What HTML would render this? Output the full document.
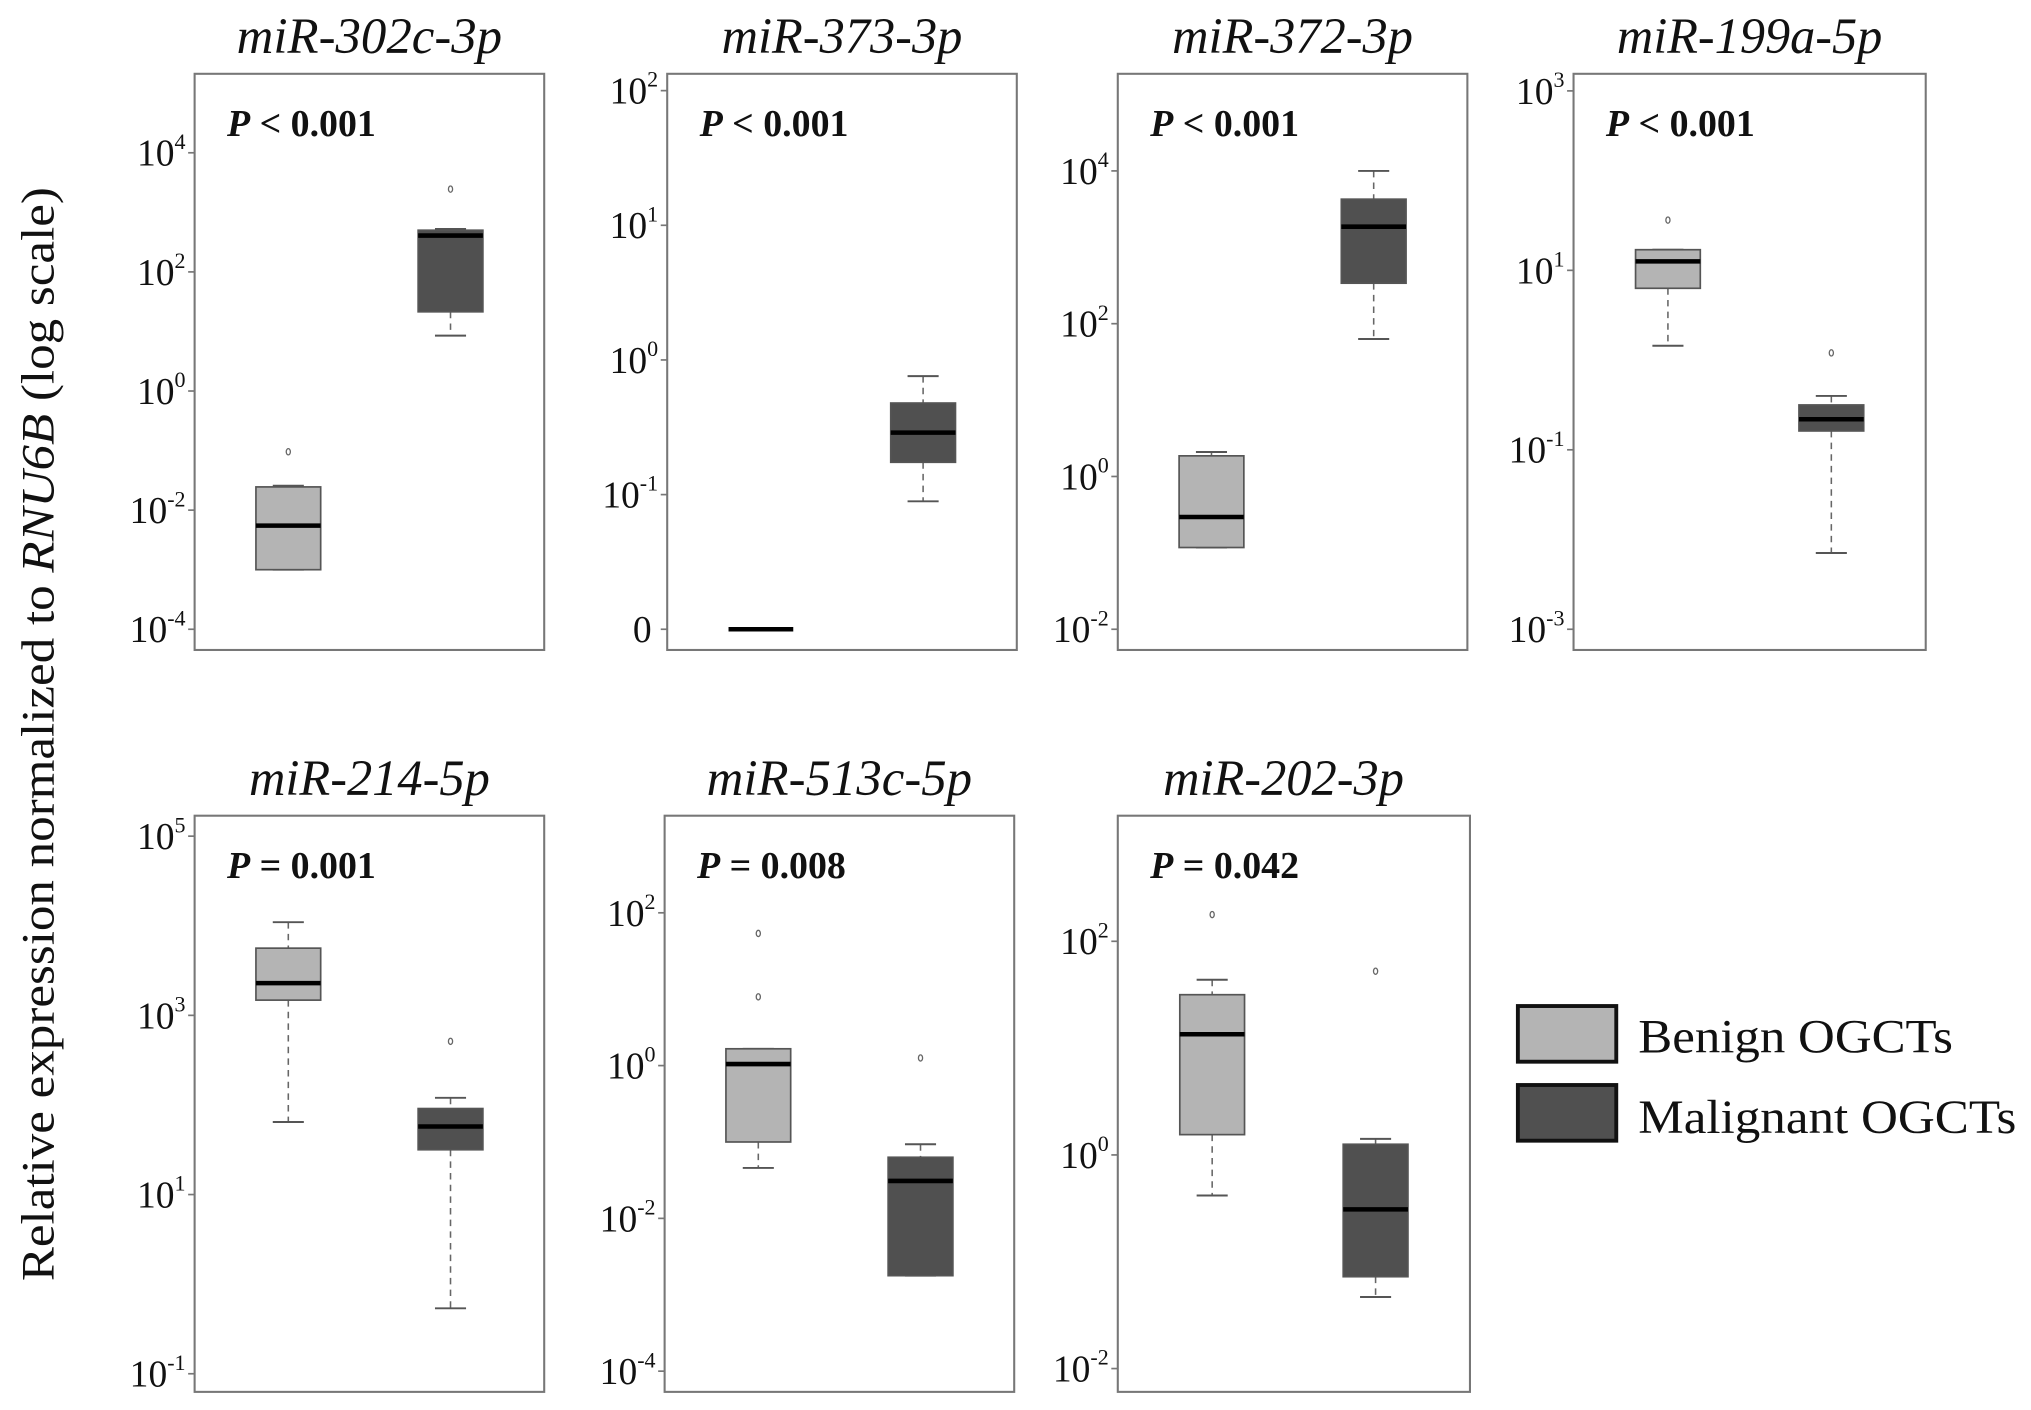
<!DOCTYPE html>
<html><head><meta charset="utf-8"><style>
html,body{margin:0;padding:0;background:#fff}
svg{display:block}
text{font-family:"Liberation Serif",serif;fill:#111}
</style></head><body>
<svg id="fig" width="2031" height="1410" viewBox="0 0 1568 1089" xmlns="http://www.w3.org/2000/svg">
<text transform="translate(41,567) rotate(-90)" text-anchor="middle" font-size="36" textLength="845" lengthAdjust="spacingAndGlyphs">Relative expression normalized to <tspan font-style="italic">RNU6B</tspan> (log scale)</text>
<g>
<rect x="1172" y="777" width="76" height="43" fill="#b4b4b4" stroke="#111" stroke-width="3"/>
<text x="1265" y="813" font-size="37" textLength="243" lengthAdjust="spacingAndGlyphs">Benign OGCTs</text>
<rect x="1172" y="838" width="76" height="43" fill="#505050" stroke="#111" stroke-width="3"/>
<text x="1265" y="875" font-size="37" textLength="292" lengthAdjust="spacingAndGlyphs">Malignant OGCTs</text>
</g>
</svg>
<script>
// log10 values: [whiskerLow, Q1, median, Q3, whiskerHigh]
const panelNames = ["miR-302c-3p","miR-373-3p","miR-372-3p","miR-199a-5p","miR-214-5p","miR-513c-5p","miR-202-3p"];
const pLabels = ["< 0.001","< 0.001","< 0.001","< 0.001","= 0.001","= 0.008","= 0.042"];
const benignStats = [
  [-3.0,-3.0,-2.26,-1.61,-1.59],
  [-2,-2,-2,-2,-2],
  [-0.93,-0.93,-0.53,0.27,0.32],
  [0.16,0.80,1.10,1.23,1.23],
  [1.81,3.17,3.36,3.75,4.04],
  [-1.34,-1.0,0.02,0.22,0.22],
  [-0.38,0.19,1.13,1.50,1.64]
];
const benignOutliers = [[-1.02],[],[],[1.56],[],[1.73,0.90],[2.25]];
const malignantStats = [
  [0.93,1.33,2.61,2.70,2.72],
  [-1.05,-0.76,-0.54,-0.32,-0.12],
  [1.80,2.53,3.27,3.63,4.0],
  [-2.15,-0.79,-0.66,-0.50,-0.40],
  [-0.27,1.50,1.76,1.96,2.08],
  [-2.75,-2.75,-1.51,-1.20,-1.03],
  [-1.33,-1.14,-0.51,0.10,0.15]
];
const malignantOutliers = [[3.39],[],[],[0.08],[2.71],[0.10],[1.72]];
const tickExps = [[4,2,0,-2,-4],[2,1,0,-1,-2],[4,2,0,-2],[3,1,-1,-3],[5,3,1,-1],[2,0,-2,-4],[2,0,-2]];
const tickLabelText = [["4","2","0","-2","-4"],["2","1","0","-1","0"],["4","2","0","-2"],["3","1","-1","-3"],["5","3","1","-1"],["2","0","-2","-4"],["2","0","-2"]];
// layout (not data)
const frames=[[150,57,420,502],[515,57,785,502],[863,57,1133,502],[1215,57,1487,502],[150,630,420,1075],[513,630,783,1075],[863,630,1135,1075]];
const axisRef=[[-4,486,46],[-2,486,104],[-2,486,59],[-3,486,69.3],[-1,1061,69.2],[-4,1059,59],[-2,1057,82.5]];
const svg=document.getElementById('fig');
const NS="http://www.w3.org/2000/svg";
function mk(tag,attrs,parent){const e=document.createElementNS(NS,tag);for(const k in attrs)e.setAttribute(k,attrs[k]);(parent||svg).appendChild(e);return e;}
panelNames.forEach((name,i)=>{
  const [x0,y0,x1,y1]=frames[i];
  const [e0,py0,ppd]=axisRef[i];
  const yS=v=>py0-(v-e0)*ppd;
  const g=mk('g',{});
  
  
  const fr=mk('rect',{x:x0,y:y0,width:x1-x0,height:y1-y0,fill:'none',stroke:'#777','stroke-width':1.6},g);
  
  
  const t=mk('text',{x:(x0+x1)/2+(i===6?-8:0),y:y0-16,'text-anchor':'middle','font-size':39,'font-style':'italic',textLength:(name.length>10?205:186),lengthAdjust:'spacingAndGlyphs'},g);
  t.textContent=name;
  
  
  const p=mk('text',{x:x0+25,y:y0+48,'font-size':29,'font-weight':'bold',textLength:115,lengthAdjust:'spacingAndGlyphs'},g);
  p.innerHTML='<tspan font-style="italic">P</tspan> '+pLabels[i];
  
  
  tickExps[i].forEach((ex,k)=>{
    const y=yS(ex);
    const tk=mk('line',{x1:x0-5,x2:x0,y1:y,y2:y,stroke:'#777','stroke-width':1.3},g);
    
    
    const lab=mk('text',{x:x0-7,y:y+10,'text-anchor':'end','font-size':29},g);
    const s=tickLabelText[i][k];
    if(i===1&&k===4){lab.textContent='0';lab.setAttribute('x',x0-12);}
    else lab.innerHTML='10<tspan font-size="17" dy="-13">'+s+'</tspan>';
    
    
  });
  const w=(x1-x0);
  [[benignStats[i],benignOutliers[i],x0+w*0.268,'#b4b4b4','benign'],[malignantStats[i],malignantOutliers[i],x0+w*0.732,'#505050','malignant']].forEach(([st,outs,cx,col,grp])=>{
    const bg=mk('g',{},g);
    
    
    const [lo,q1,md,q3,hi]=st;
    const hw=25, cw=12;
    if(yS(q1)-yS(hi)>0.5){
      if(hi>q3){const l=mk('line',{x1:cx,x2:cx,y1:yS(hi),y2:yS(q3),stroke:'#666','stroke-dasharray':'5,4','stroke-width':1.2},bg);}
      if(lo<q1){const l=mk('line',{x1:cx,x2:cx,y1:yS(q1),y2:yS(lo),stroke:'#666','stroke-dasharray':'5,4','stroke-width':1.2},bg);}
      const c1=mk('line',{x1:cx-cw,x2:cx+cw,y1:yS(hi),y2:yS(hi),stroke:'#555','stroke-width':1.5},bg);
      
      
      const c2=mk('line',{x1:cx-cw,x2:cx+cw,y1:yS(lo),y2:yS(lo),stroke:'#555','stroke-width':1.5},bg);
      
      
      const r=mk('rect',{x:cx-hw,y:yS(q3),width:2*hw,height:yS(q1)-yS(q3),fill:col,stroke:'#555','stroke-width':1.3},bg);
      
      
    }
    const m=mk('line',{x1:cx-hw,x2:cx+hw,y1:yS(md),y2:yS(md),stroke:'#000','stroke-width':3.5},bg);
    
    
    outs.forEach(o=>{
      const c=mk('ellipse',{cx:cx,cy:yS(o),rx:1.6,ry:2.4,fill:'none',stroke:'#666','stroke-width':1},bg);
      
      
    });
  });
});
</script>
</body></html>
